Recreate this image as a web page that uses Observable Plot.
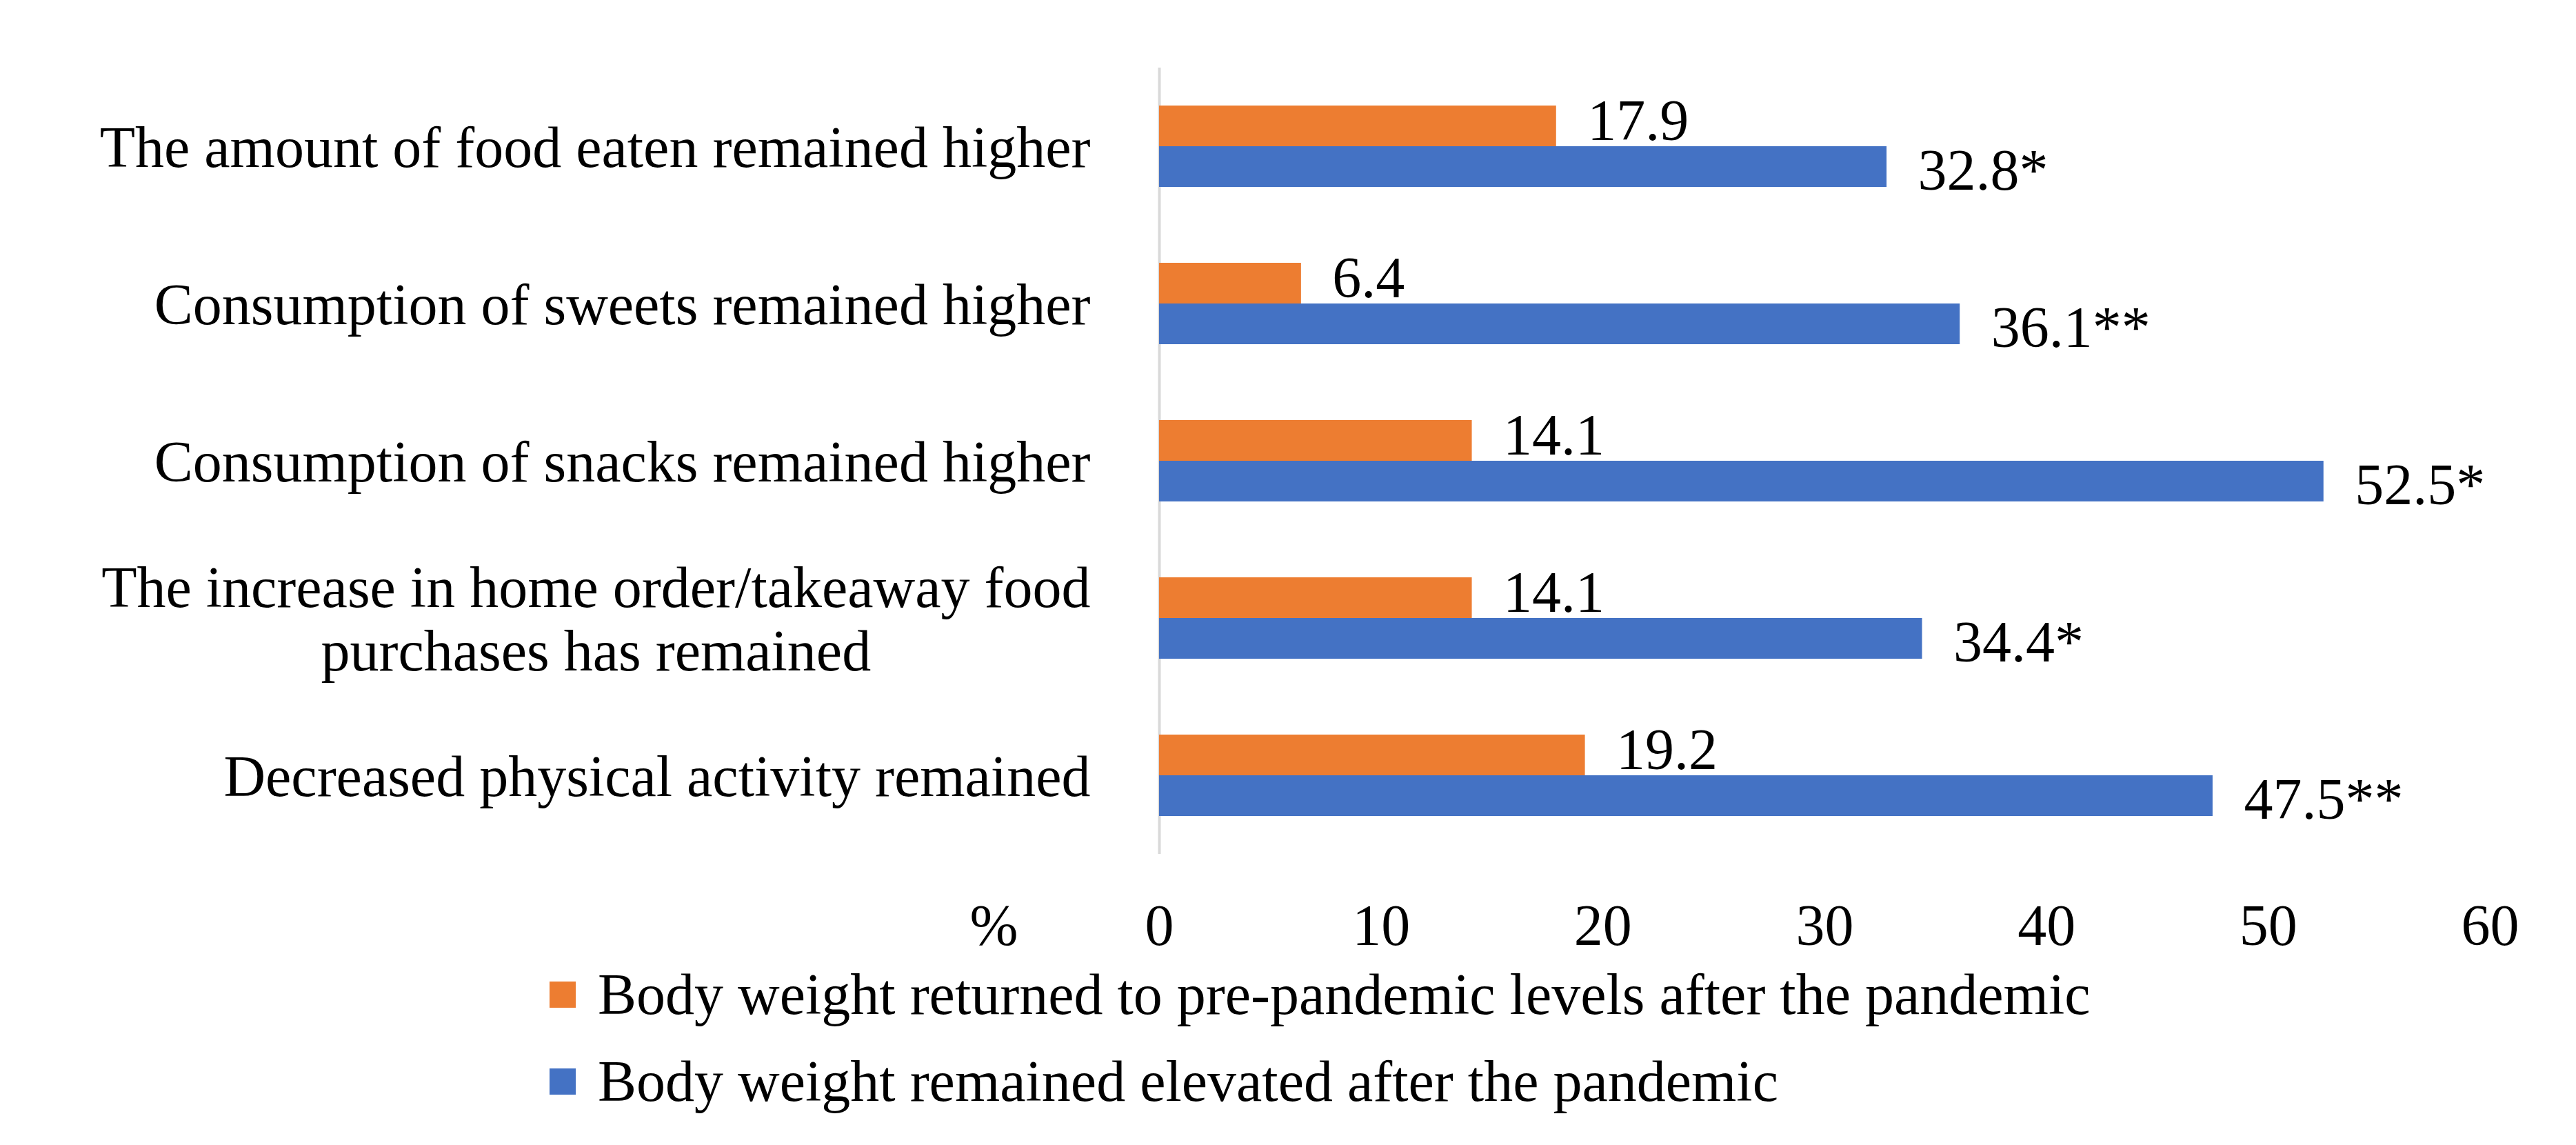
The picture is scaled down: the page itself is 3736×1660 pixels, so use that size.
<!DOCTYPE html>
<html>
<head>
<meta charset="utf-8">
<script src="https://cdn.jsdelivr.net/npm/d3@7"></script>
<script src="https://cdn.jsdelivr.net/npm/@observablehq/plot@0.6"></script>
<style>
  html, body { margin: 0; padding: 0; background: #fff; }
  #chart { width: 3736px; }
  .legend { font-family: "Liberation Serif", serif; font-size: 84px; color: #000; padding-left: 797px; }
  .row { display: flex; align-items: center; height: 94px; line-height: 94px; white-space: nowrap; }
  .row + .row { margin-top: 32px; }
  .sw { width: 38px; height: 38px; margin-right: 32px; flex: none; }
</style>
</head>
<body>
<div id="chart"></div>
<div class="legend" id="legend"></div>
<script>
const categories = [
  "The amount of food eaten remained higher",
  "Consumption of sweets remained higher",
  "Consumption of snacks remained higher",
  "The increase in home order/takeaway food\npurchases has remained",
  "Decreased physical activity remained"
];
const seriesNames = [
  "Body weight returned to pre-pandemic levels after the pandemic",
  "Body weight remained elevated after the pandemic"
];
const returnedValues = [17.9, 6.4, 14.1, 14.1, 19.2];
const elevatedValues = [32.8, 36.1, 52.5, 34.4, 47.5];
const elevatedSignificance = ["*", "**", "*", "*", "**"];
const xTicks = [0, 10, 20, 30, 40, 50, 60];
const xUnit = "%";
const colors = ["#ED7D31", "#4472C4"];

const rows = categories.flatMap((c, i) => [
  {category: c, series: seriesNames[0], value: returnedValues[i], label: returnedValues[i].toFixed(1)},
  {category: c, series: seriesNames[1], value: elevatedValues[i], label: elevatedValues[i].toFixed(1) + elevatedSignificance[i]}
]);

const FONT = '"Liberation Serif", serif';
const FS = 84;

const plot = Plot.plot({
  width: 3736,
  height: 1395,
  marginTop: 96,
  marginBottom: 155,
  marginLeft: 1681,
  marginRight: 125,
  style: {fontFamily: FONT, fontSize: FS + "px", color: "#000", background: "#fff"},
  x: {domain: [0, 60], label: null},
  y: {domain: seriesNames, paddingInner: 0, paddingOuter: 0.908, axis: null},
  fy: {domain: categories, padding: 0, label: null},
  color: {domain: seriesNames, range: colors},
  marks: [
    Plot.axisFy({anchor: "left", tickSize: 0, tickPadding: 100, lineHeight: 1.1, label: null, fontSize: FS, fill: "#000"}),
    Plot.axisX({ticks: xTicks, tickSize: 0, tickPadding: 72, label: null, fontSize: FS, fill: "#000"}),
    Plot.ruleX([0], {stroke: "#d9d9d9", strokeWidth: 4}),
    Plot.barX(rows, {fy: "category", y: "series", x: "value", fill: "series"}),
    Plot.text(rows.filter(d => d.series === seriesNames[0]), {
      fy: "category", y: "series", x: "value", text: "label",
      textAnchor: "start", dx: 45, dy: -7, fill: "#000", fontSize: FS
    }),
    Plot.text(rows.filter(d => d.series === seriesNames[1]), {
      fy: "category", y: "series", x: "value", text: "label",
      textAnchor: "start", dx: 45, dy: 6, fill: "#000", fontSize: FS
    }),
    Plot.text([xUnit], {
      fy: () => categories[categories.length - 1],
      text: d => d,
      frameAnchor: "bottom-left", lineAnchor: "top", textAnchor: "middle",
      dx: -240, dy: 72, fill: "#000", fontSize: FS
    })
  ]
});

document.getElementById("chart").appendChild(plot);

// Center multi-line category labels within their own block (as in the original)
plot.querySelectorAll("text").forEach(t => {
  const spans = t.querySelectorAll("tspan");
  if (spans.length > 1) {
    const w = t.getBBox().width;
    t.setAttribute("text-anchor", "middle");
    spans.forEach(s => s.setAttribute("x", -w / 2));
  }
});

const legend = document.getElementById("legend");
seriesNames.forEach((name, i) => {
  const row = document.createElement("div");
  row.className = "row";
  const sw = document.createElement("span");
  sw.className = "sw";
  sw.style.background = colors[i];
  const label = document.createElement("span");
  label.textContent = name;
  row.appendChild(sw);
  row.appendChild(label);
  legend.appendChild(row);
});
</script>
</body>
</html>
